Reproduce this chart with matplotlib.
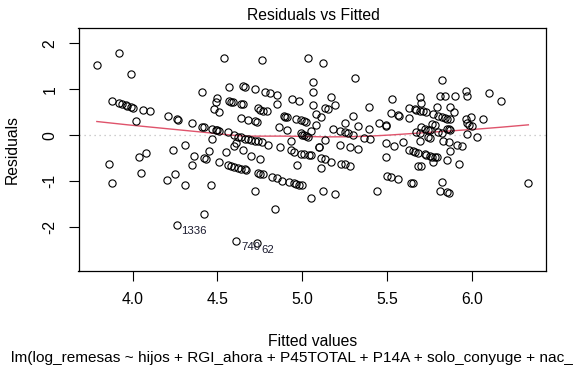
import numpy as np
import matplotlib
matplotlib.use("Agg")
import matplotlib.pyplot as plt

plt.rcParams['font.family'] = ['Liberation Sans', 'DejaVu Sans']

fitted = [
    3.92, 3.79, 3.99, 3.88, 3.92, 3.94, 3.96, 3.97, 3.99, 4.00, 4.06, 4.10, 4.02, 4.21, 4.26, 4.27,
    4.31, 4.24, 4.08, 4.04, 3.86, 4.05, 3.88, 4.20, 4.25, 4.31, 4.26,
    4.54, 4.76, 4.41, 4.57, 4.65, 4.66, 4.72, 4.78, 4.81, 4.50, 4.49, 4.57, 4.58, 4.59, 4.64, 4.65,
    4.48, 4.51, 4.74, 4.75, 4.77, 4.64, 4.68, 4.72, 4.73, 4.35, 4.41, 4.42, 4.47, 4.49, 4.50, 4.51,
    4.56, 4.60, 4.62, 4.64, 4.66, 4.68, 4.70, 4.72, 4.74, 4.76, 4.47, 4.61, 4.60, 4.65, 4.45, 4.55,
    4.36, 4.42, 4.43, 4.70, 4.75, 4.51, 4.35, 4.56, 4.58, 4.60, 4.62, 4.64, 4.66, 4.67, 4.74, 4.75,
    4.77, 4.46, 4.72, 4.42, 4.61, 4.73,
    5.03, 5.12, 5.06, 5.06, 4.85, 4.85, 4.94, 4.98, 5.06, 5.17, 5.19, 5.13, 5.15, 4.79, 4.89, 4.90,
    4.91, 4.96, 4.99, 5.01, 5.02, 5.08, 5.11, 5.08, 5.05, 4.86, 4.91, 5.18, 5.22, 4.99, 5.00, 5.01,
    5.02, 5.03, 4.80, 4.93, 5.13, 5.10, 5.10, 4.87, 4.93, 4.95, 4.99, 5.01, 5.04, 5.05, 5.22, 5.11,
    5.13, 5.17, 5.11, 4.97, 4.82, 4.85, 4.88, 4.92, 4.95, 4.96, 4.98, 5.00, 5.12, 5.19, 5.05, 4.84,
    5.23,
    5.31, 5.53, 5.39, 5.52, 5.56, 5.57, 5.30, 5.63, 5.63, 5.66, 5.67, 5.69, 5.69, 5.25, 5.33, 5.45,
    5.49, 5.49, 5.39, 5.25, 5.27, 5.30, 5.36, 5.40, 5.67, 5.69, 5.69, 5.28, 5.33, 5.49, 5.54, 5.59,
    5.49, 5.63, 5.65, 5.66, 5.68, 5.25, 5.28, 5.68, 5.50, 5.52, 5.56, 5.64, 5.65, 5.44,
    5.82, 5.96, 5.97, 6.10, 6.17, 5.70, 5.81, 5.84, 5.90, 5.87, 5.79, 5.71, 5.73, 5.89, 5.77, 5.80,
    5.82, 5.84, 5.85, 5.87, 5.96, 5.99, 5.97, 5.98, 6.00, 6.06, 5.76, 5.78, 5.70, 5.72, 5.74, 5.75,
    5.80, 5.82, 5.85, 5.86, 5.87, 5.74, 5.75, 5.97, 6.03, 5.83, 5.86, 5.91, 5.94, 5.87, 5.72, 5.73,
    5.75, 5.76, 5.78, 5.79, 5.77, 5.85, 5.92, 5.70, 5.82, 5.81, 5.85, 5.86, 6.33,
]
residuals = [
    1.78, 1.53, 1.33, 0.75, 0.70, 0.68, 0.66, 0.64, 0.61, 0.60, 0.55, 0.53, 0.31, 0.41, 0.35, 0.33,
    -0.22, -0.32, -0.39, -0.47, -0.63, -0.83, -1.04, -0.98, -0.84, -1.08, -1.95,
    1.67, 1.63, 0.94, 1.04, 1.07, 1.06, 1.01, 0.94, 0.92, 0.81, 0.73, 0.75, 0.73, 0.72, 0.68, 0.67,
    0.57, 0.51, 0.59, 0.55, 0.53, 0.38, 0.33, 0.31, 0.28, 0.27, 0.19, 0.18, 0.14, 0.12, 0.12, 0.09,
    0.07, 0.00, -0.03, -0.04, -0.07, -0.08, -0.10, -0.12, -0.13, -0.15, -0.07, -0.17, -0.23, -0.32, -0.34, -0.37,
    -0.46, -0.50, -0.52, -0.45, -0.52, -0.59, -0.65, -0.65, -0.66, -0.68, -0.70, -0.73, -0.74, -0.75, -0.83, -0.84,
    -0.84, -1.07, -1.22, -1.71, -2.30, -2.35,
    1.67, 1.57, 1.16, 0.94, 0.87, 0.68, 0.78, 0.75, 0.65, 0.83, 0.66, 0.59, 0.57, 0.52, 0.42, 0.40,
    0.40, 0.35, 0.33, 0.32, 0.30, 0.46, 0.40, 0.22, 0.10, 0.17, 0.12, 0.14, 0.09, 0.04, 0.01, 0.00,
    -0.02, -0.03, -0.20, -0.12, -0.10, -0.25, -0.26, -0.26, -0.32, -0.36, -0.40, -0.41, -0.43, -0.43, -0.20, -0.49,
    -0.52, -0.57, -0.71, -0.65, -0.91, -0.93, -0.99, -1.02, -1.04, -1.05, -1.07, -1.07, -1.21, -1.28, -1.37, -1.61,
    -0.63,
    1.24, 0.78, 0.61, 0.48, 0.44, 0.43, 0.42, 0.37, 0.59, 0.57, 0.55, 0.52, 0.83, 0.26, 0.20, 0.27,
    0.22, 0.21, 0.14, 0.07, 0.04, 0.00, -0.05, -0.09, 0.07, 0.04, -0.12, -0.26, -0.30, -0.17, -0.24, -0.15,
    -0.48, -0.32, -0.34, -0.36, -0.38, -0.62, -0.67, -0.67, -0.88, -0.91, -0.96, -1.04, -1.04, -1.20,
    1.20, 0.96, 0.85, 0.92, 0.74, 0.70, 0.85, 0.85, 0.85, 0.61, 0.61, 0.52, 0.51, 0.51, 0.46, 0.41,
    0.39, 0.38, 0.36, 0.35, 0.35, 0.40, 0.27, 0.22, 0.21, 0.35, 0.24, 0.22, 0.17, 0.14, 0.12, 0.12,
    0.07, 0.05, 0.14, 0.14, 0.12, -0.03, -0.05, 0.02, -0.04, -0.12, -0.15, -0.20, -0.24, -0.34, -0.41, -0.43,
    -0.45, -0.47, -0.47, -0.48, -0.57, -0.54, -0.62, -0.67, -1.02, -1.20, -1.24, -1.25, -1.03,
]

id_labels = ["1336", "740", "62"]
id_fitted = [4.26, 4.61, 4.73]
id_resid = [-1.95, -2.30, -2.35]

title = "Residuals vs Fitted"
xlabel = "Fitted values"
ylabel = "Residuals"
subcaption = "lm(log_remesas ~ hijos + RGI_ahora + P45TOTAL + P14A + solo_conyuge + nac_"
xticks = [4.0, 4.5, 5.0, 5.5, 6.0]
yticks = [-2, -1, 0, 1, 2]


def lowess(x, y, f=2/3, iters=3):
    x = np.asarray(x, float)
    y = np.asarray(y, float)
    order = np.argsort(x)
    x, y = x[order], y[order]
    n = len(x)
    r = int(np.ceil(f * n))
    yfit = np.zeros(n)
    rw = np.ones(n)
    for it in range(iters + 1):
        for i in range(n):
            d = np.abs(x - x[i])
            h = np.sort(d)[r - 1]
            h = max(h, 1e-12)
            w = np.clip(d / h, 0, 1)
            w = (1 - w ** 3) ** 3 * rw
            sw = w.sum()
            xm = (w * x).sum() / sw
            ym = (w * y).sum() / sw
            sxx = (w * (x - xm) ** 2).sum()
            if sxx > 1e-12:
                b = (w * (x - xm) * (y - ym)).sum() / sxx
            else:
                b = 0.0
            yfit[i] = ym + b * (x[i] - xm)
        res = y - yfit
        s = np.median(np.abs(res))
        if s == 0:
            break
        u = np.clip(res / (6 * s), -1, 1)
        rw = (1 - u ** 2) ** 2
    return x, yfit


fig = plt.figure(figsize=(5.86, 3.69), dpi=100)
ax = fig.add_axes([78.5 / 586, 1 - 270.7 / 369, (545.7 - 78.5) / 586, (270.7 - 28.3) / 369])

ax.axhline(0, color='#BEBEBE', linestyle=(0, (1, 3)), linewidth=0.9, zorder=1)
ax.plot(fitted, residuals, linestyle='none', marker='o', markersize=5.2,
        markerfacecolor='none', markeredgecolor='black', markeredgewidth=0.8, zorder=3)
lx, ly = lowess(fitted, residuals)
ax.plot(lx, ly, color='#DF536B', linewidth=1.0, zorder=2)

for lab, fx, ry in zip(id_labels, id_fitted, id_resid):
    ax.annotate(lab, (fx, ry), xytext=(3.5, -4.5), textcoords='offset points',
                ha='left', va='center', fontsize=8.2, color='#1a1a2e')

ax.set_xlim(3.682, 6.432)
ax.set_ylim(-2.943, 2.326)
ax.set_xticks(xticks)
ax.set_xticklabels([f"{t:.1f}" for t in xticks])
ax.set_yticks(yticks)
ax.set_yticklabels([str(t) for t in yticks], rotation=90, va='center')
ax.tick_params(axis='both', direction='out', length=7, width=0.8, labelsize=11.3, colors='black')
ax.tick_params(axis='x', pad=8)
ax.tick_params(axis='y', pad=8)
for sp in ax.spines.values():
    sp.set_linewidth(0.9)
    sp.set_color('black')

fig.text(313 / 586, 1 - 15 / 369, title, ha='center', va='center', fontsize=11.3)
fig.text(313 / 586, 1 - 341 / 369, xlabel, ha='center', va='center', fontsize=11.3)
fig.text(12.5 / 586, 1 - 150 / 369, ylabel, ha='center', va='center', rotation=90, fontsize=11.3)
fig.text(11 / 586, 1 - 358 / 369, subcaption, ha='left', va='center', fontsize=11.1)

fig.savefig("out.png", dpi=100)
